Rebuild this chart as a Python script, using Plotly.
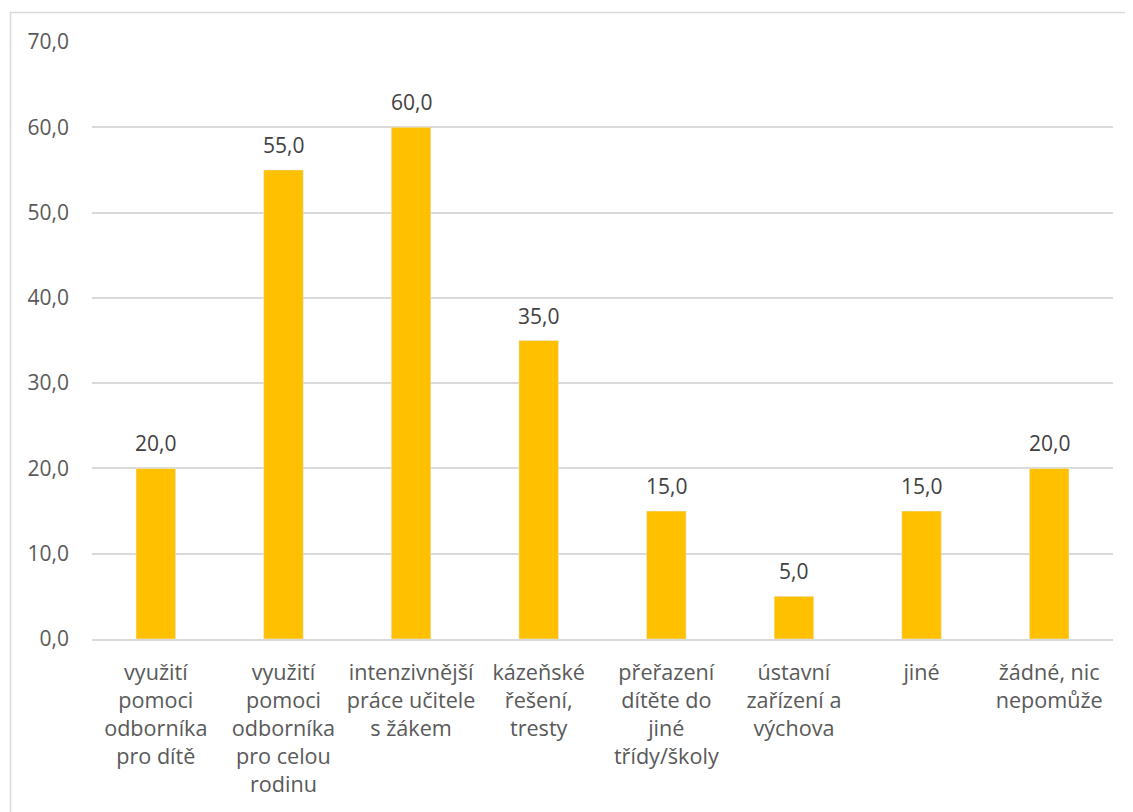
import plotly.graph_objects as go

categories = [
    "využití pomoci odborníka pro dítě",
    "využití pomoci odborníka pro celou rodinu",
    "intenzivnější práce učitele s žákem",
    "kázeňské řešení, tresty",
    "přeřazení dítěte do jiné třídy/školy",
    "ústavní zařízení a výchova",
    "jiné",
    "žádné, nic nepomůže",
]
tick_labels = [
    "využití<br>pomoci<br>odborníka<br>pro dítě",
    "využití<br>pomoci<br>odborníka<br>pro celou<br>rodinu",
    "intenzivnější<br>práce učitele<br>s žákem",
    "kázeňské<br>řešení,<br>tresty",
    "přeřazení<br>dítěte do<br>jiné<br>třídy/školy",
    "ústavní<br>zařízení a<br>výchova",
    "jiné",
    "žádné, nic<br>nepomůže",
]
values = [20.0, 55.0, 60.0, 35.0, 15.0, 5.0, 15.0, 20.0]
y_ticks = [0, 10, 20, 30, 40, 50, 60, 70]

FONT = "Open Sans"
TXT = "#595959"
LBL = "#404040"
FS = 21

fig = go.Figure(
    go.Bar(
        x=categories,
        y=values,
        marker_color="#FFC000",
        width=0.31,
        hoverinfo="skip",
    )
)

for c, v in zip(categories, values):
    fig.add_annotation(
        x=c,
        y=v,
        text=f"{v:.1f}".replace(".", ","),
        showarrow=False,
        yanchor="middle",
        yshift=25,
        font=dict(family=FONT, size=FS, color=LBL),
    )

# page body has an 8px margin, so the figure is drawn 8px right/down
W, H = 1125, 804
L, R, T, B = 84, 20, 34, 173
pw, ph = W - L - R, H - T - B

fig.update_layout(
    width=W,
    height=H,
    margin=dict(l=L, r=R, t=T, b=B, autoexpand=False),
    paper_bgcolor="white",
    plot_bgcolor="white",
    separators=", ",
    showlegend=False,
    font=dict(family=FONT, size=FS, color=TXT),
    xaxis=dict(
        tickmode="array",
        tickvals=categories,
        ticktext=tick_labels,
        tickangle=0,
        showgrid=False,
        showline=True,
        linecolor="#D9D9D9",
        linewidth=1.5,
        ticks="",
        automargin=False,
        ticklabelstandoff=13,
        tickfont=dict(family=FONT, size=21.6, color=TXT),
    ),
    yaxis=dict(
        range=[0, 70],
        tickvals=y_ticks,
        tickformat=".1f",
        showgrid=True,
        gridcolor="#D9D9D9",
        gridwidth=1.5,
        zeroline=False,
        showline=False,
        ticks="",
        automargin=False,
        ticklabelstandoff=22,
        tickfont=dict(family=FONT, size=FS, color=TXT),
    ),
    bargap=0.69,
)

# chart border (Excel chart area outline)
fig.add_shape(
    type="rect",
    xref="paper",
    yref="paper",
    x0=(2.5 - L) / pw,
    x1=(1130 - L) / pw,
    y0=(T + ph - 830) / ph,
    y1=(T + ph - 4.5) / ph,
    line=dict(color="#D9D9D9", width=1.5),
    fillcolor="rgba(0,0,0,0)",
    layer="below",
)

fig.write_html("out.html")
